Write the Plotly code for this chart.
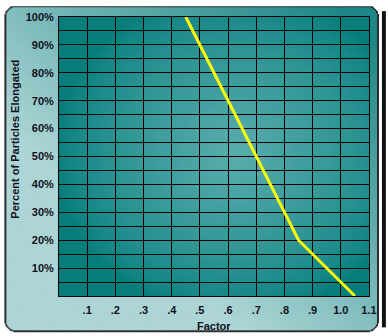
import base64, struct, zlib, math
import plotly.graph_objects as go

# ---- data ----
factor = [0.45, 0.60, 0.70, 0.80, 0.85, 1.05]
percent_elongated = [100, 70, 50, 30, 20, 0]

x_tick_vals = [0.1, 0.2, 0.3, 0.4, 0.5, 0.6, 0.7, 0.8, 0.9, 1.0, 1.1]
x_tick_text = [".1", ".2", ".3", ".4", ".5", ".6", ".7", ".8", ".9", "1.0", "1.1"]
y_tick_vals = list(range(5, 101, 5))
y_tick_text = [f"{v}%" if v % 10 == 0 else "" for v in y_tick_vals]

# ---- geometry ----
W, H = 388, 336
ML, MR, MT, MB = 59, 17, 11, 40
PX0, PX1, PY0, PY1 = ML, W - MR, MT, H - MB


# ---- decorative background image (panel + plot gradient) ----
def rr_dist(px, py, x0, y0, x1, y1, r):
    cx, cy = (x0 + x1) / 2, (y0 + y1) / 2
    hw, hh = (x1 - x0) / 2, (y1 - y0) / 2
    qx = abs(px - cx) - (hw - r)
    qy = abs(py - cy) - (hh - r)
    ox, oy = max(qx, 0), max(qy, 0)
    return math.hypot(ox, oy) + min(max(qx, qy), 0) - r


def clamp(v, a, b):
    return a if v < a else b if v > b else v


rows = []
for y in range(H):
    row = bytearray([0])
    for x in range(W):
        c = (255, 255, 255)
        if x >= 384 and 5 <= y <= 327:
            c = (18, 18, 18)
        d = rr_dist(x + 0.5, y + 0.5, 4, -1, 381, 333, 12)
        if d <= 0:
            if d > -1.6:
                c = (45, 45, 45)
            else:
                rv = clamp(130 - 0.3 * x + 0.35 * y, 28, 172)
                t = (rv - 28) / 144
                g = 133 + t * 79
                s = 7 if (x - y) % 5 == 0 else 0
                c = (int(clamp(rv + s, 0, 255)), int(clamp(g + s, 0, 255)), int(clamp(g + s, 0, 255)))
        if PX0 <= x < PX1 and PY0 <= y < PY1:
            dd = math.sqrt(((x - 235) / 180) ** 2 + ((y - 150) / 165) ** 2)
            t = clamp(1 - dd, 0, 1) ** 0.7
            c = (int(6 + 84 * t), int(125 + 48 * t), int(125 + 48 * t))
        row += bytes(c)
    rows.append(bytes(row))

raw = b"".join(rows)


def chunk(tag, data):
    return struct.pack(">I", len(data)) + tag + data + struct.pack(">I", zlib.crc32(tag + data) & 0xFFFFFFFF)


png = b"\x89PNG\r\n\x1a\n" + chunk(b"IHDR", struct.pack(">IIBBBBB", W, H, 8, 2, 0, 0, 0)) \
    + chunk(b"IDAT", zlib.compress(raw, 9)) + chunk(b"IEND", b"")
img_src = "data:image/png;base64," + base64.b64encode(png).decode()

pw, ph = PX1 - PX0, PY1 - PY0

# ---- figure ----
fig = go.Figure()
fig.add_trace(go.Scatter(
    x=factor, y=percent_elongated, mode="lines",
    line=dict(color="#ffff00", width=3), hoverinfo="skip", showlegend=False,
))

font_main = dict(family="Liberation Sans, Arial, sans-serif", size=11, color="#111122")

fig.update_layout(
    width=W, height=H, autosize=False,
    margin=dict(l=ML, r=MR, t=MT, b=MB, pad=0),
    paper_bgcolor="white", plot_bgcolor="rgba(0,0,0,0)",
    font=font_main,
    images=[dict(source=img_src, xref="paper", yref="paper",
                 x=-ML / pw, y=1 + MT / ph, sizex=W / pw, sizey=H / ph,
                 xanchor="left", yanchor="top", sizing="stretch", layer="below")],
    xaxis=dict(range=[0, 1.1], tickvals=x_tick_vals, ticktext=x_tick_text,
               showgrid=True, gridcolor="black", gridwidth=1, zeroline=False,
               showline=True, linecolor="black", linewidth=1, mirror=True,
               ticks="outside", ticklen=4, tickcolor="rgba(0,0,0,0)",
               tickfont=dict(family="Liberation Sans, Arial, sans-serif", size=11, color="#111122"),
               fixedrange=True),
    yaxis=dict(range=[0, 100], tickvals=y_tick_vals, ticktext=y_tick_text,
               showgrid=True, gridcolor="black", gridwidth=1, zeroline=False,
               showline=True, linecolor="black", linewidth=1, mirror=True,
               ticks="outside", ticklen=2, tickcolor="rgba(0,0,0,0)",
               tickfont=dict(family="Liberation Sans, Arial, sans-serif", size=11, color="#111122"),
               fixedrange=True),
    annotations=[
        dict(text="<b>Factor</b>", xref="paper", yref="paper",
             x=0.5, y=-(326.7 - PY1) / ph, xanchor="center", yanchor="middle",
             showarrow=False, font=font_main),
        dict(text="<b>Percent of Particles Elongated</b>", xref="paper", yref="paper",
             x=(15 - PX0) / pw, y=(PY1 - 136) / ph, xanchor="center", yanchor="middle",
             textangle=-90, showarrow=False, font=font_main),
    ],
)

# bold tick labels
fig.update_xaxes(ticktext=[f"<b>{t}</b>" for t in x_tick_text])
fig.update_yaxes(ticktext=[f"<b>{t}</b>" if t else "" for t in y_tick_text])

fig.write_html("out.html", config={"displayModeBar": False})
